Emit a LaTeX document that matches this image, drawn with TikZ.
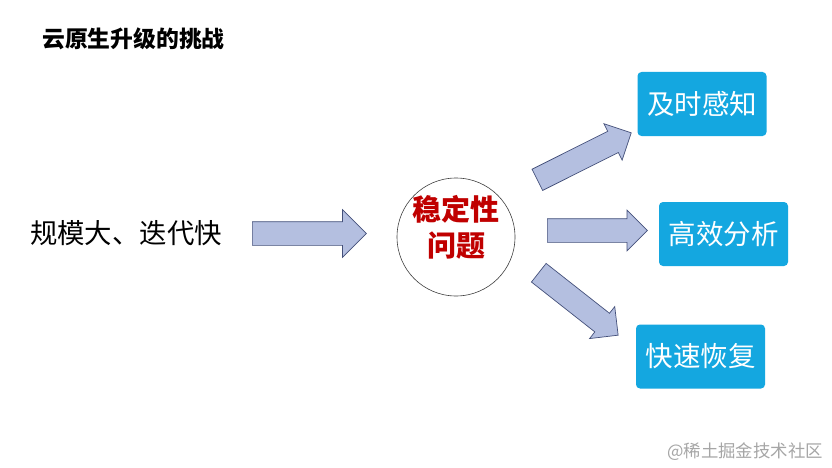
\documentclass[tikz,border=0pt]{standalone}
\usepackage{fontspec}
\setmainfont{Noto Sans CJK SC}
\usetikzlibrary{shapes.arrows,positioning}
\definecolor{CloudBlue}{HTML}{14A7E0}
\definecolor{ArrowFill}{HTML}{B4BFE0}
\definecolor{ArrowEdge}{HTML}{44507A}
\definecolor{IssueRed}{HTML}{C00000}
\definecolor{RingGray}{HTML}{404040}
\definecolor{MarkGray}{HTML}{A6A6A6}
\tikzset{
  heading/.style={
    inner sep=0pt,
    font=\fontsize{22.8}{27}\selectfont\bfseries
  },
  cause/.style={
    inner sep=0pt,
    font=\fontsize{27.4}{32}\selectfont
  },
  problem/.style={
    circle,
    draw=RingGray,
    line width=.6pt,
    minimum size=118pt,
    inner sep=0pt
  },
  problemtext/.style={
    align=center,
    text=IssueRed,
    inner sep=0pt,
    font=\fontsize{29}{36}\selectfont\bfseries
  },
  goal/.style={
    rounded corners=4pt,
    fill=CloudBlue,
    text=white,
    minimum width=129pt,
    minimum height=64pt,
    inner sep=0pt,
    font=\fontsize{27.5}{32}\selectfont
  },
  blockarrow/.style={
    single arrow,
    draw=ArrowEdge,
    fill=ArrowFill,
    line width=.7pt,
    anchor=tail,
    inner xsep=0pt,
    inner ysep=11.5pt,
    minimum width=0pt,
    single arrow tip angle=90,
    single arrow head extend=8.5pt
  },
  watermark/.style={
    inner sep=0pt,
    text=MarkGray,
    font=\fontsize{17.4}{21}\selectfont
  }
}

\begin{document}
\begin{tikzpicture}[x=1pt,y=-1pt]
  \useasboundingbox[fill=white] (0,0) rectangle (832,468);

  % Heading in the top left corner.
  \node[heading,anchor=west] (title) at (42,38.5) {云原生升级的挑战};

  % Cause on the left, pushing into the problem.
  \node[cause] (scale) at (126,233.5) {规模大、迭代快};
  \node[blockarrow,single arrow head extend=12pt,minimum height=114pt] (grow) at (252,233.5) {};

  % The problem in the middle.
  \node[problem] (stab) at (456,237) {};
  \node[problemtext] (stabtext) at (456,227) {稳定性\\问题};

  % Three answers on the right.
  \node[goal] (sense)   at (702,104)     {及时感知};
  \node[goal] (analyze) at (723.5,234)   {高效分析};
  \node[goal] (recover) at (700.5,356.5) {快速恢复};

  \node[blockarrow,rotate=26.6,minimum height=105pt] (toSense)   at (537,180)     {};
  \node[blockarrow,minimum height=100pt]             (toAnalyze) at (547,230.5)   {};
  \node[blockarrow,rotate=-38.2,minimum height=101pt] (toRecover) at (538.5,272.5) {};

  \node[watermark,anchor=east] (mark) at (823,452) {@稀土掘金技术社区};
\end{tikzpicture}
\end{document}
